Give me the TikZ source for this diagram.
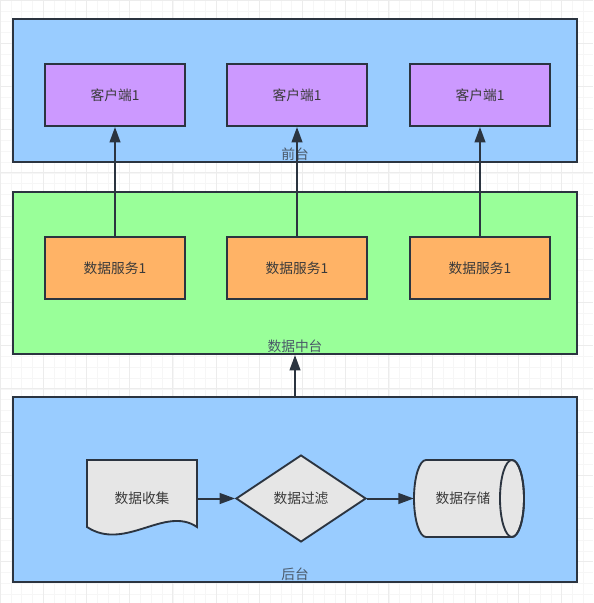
\documentclass[tikz,border=0pt]{standalone}
\usepackage{fontspec}
\newfontfamily\cjk{Noto Sans CJK SC}
\usetikzlibrary{arrows.meta,shapes.geometric}
\definecolor{frameblue}{HTML}{99CCFF}
\definecolor{framegreen}{HTML}{99FF99}
\definecolor{clientpurple}{HTML}{CC99FF}
\definecolor{svcorange}{HTML}{FFB366}
\definecolor{shapegray}{HTML}{E6E6E6}
\definecolor{edge}{HTML}{2B3440}
\definecolor{txtc}{HTML}{3A3A3A}
\definecolor{lblc}{HTML}{4A5868}
\definecolor{gridminor}{HTML}{F6F6F6}
\definecolor{gridmajor}{HTML}{ECECEC}
\begin{document}
\begin{tikzpicture}[x=0.75pt,y=-0.75pt,
  every node/.style={font=\cjk\fontsize{10.3}{12}\selectfont, text=txtc},
  frame/.style={draw=edge, line width=1.5pt, rectangle, minimum width=423pt},
  box/.style={draw=edge, line width=1.5pt, rectangle, minimum width=105pt, minimum height=46.5pt},
  flbl/.style={anchor=south, inner sep=1.5pt, text=lblc},
  conn/.style={draw=edge, line width=1.5pt, -{Triangle[length=11.5pt,width=8pt]}},
  gshape/.style={draw=edge, line width=1.4pt, fill=shapegray}
]
\useasboundingbox (0,0) rectangle (593,603);
\fill[white] (0,0) rectangle (593,603);
% grid
\foreach \i in {0,...,55} {
  \draw[gridminor, line width=0.4pt] ({\i*10.8},0) -- ({\i*10.8},603);
  \draw[gridminor, line width=0.4pt] (0,{\i*10.8}) -- (593,{\i*10.8});
}
\foreach \i in {0,...,14} {
  \draw[gridmajor, line width=0.5pt] ({\i*43.2},0) -- ({\i*43.2},603);
  \draw[gridmajor, line width=0.5pt] (0,{\i*43.2}) -- (593,{\i*43.2});
}
% frames
\node[frame, fill=frameblue, minimum height=107.25pt] (front) at (295,90.5) {};
\node[frame, fill=framegreen, minimum height=121.5pt] (mid) at (295,273) {};
\node[frame, fill=frameblue, minimum height=138.75pt] (back) at (295,489.5) {};
\node[flbl] (lf) at (front.south) {前台};
\node[flbl] (lm) at (mid.south) {数据中台};
\node[flbl] (lb) at (back.south) {后台};
% clients
\node[box, fill=clientpurple] (c1) at (115,95) {客户端1};
\node[box, fill=clientpurple] (c2) at (297,95) {客户端1};
\node[box, fill=clientpurple] (c3) at (480,95) {客户端1};
% services
\node[box, fill=svcorange] (s1) at (115,268) {数据服务1};
\node[box, fill=svcorange] (s2) at (297,268) {数据服务1};
\node[box, fill=svcorange] (s3) at (480,268) {数据服务1};
\draw[conn] (s1) -- (c1);
\draw[conn] (s2) -- (c2);
\draw[conn] (s3) -- (c3);
\draw[conn] (back.north -| lm) -- (mid.south -| lm);
% document shape
\draw[gshape] (87,460) -- (197,460) -- (197,527) .. controls (165,505) and (125,552) .. (87,527) -- cycle;
\node[minimum width=82.5pt, minimum height=57.75pt, inner sep=0pt] (doc) at (142,498.5) {数据收集};
% diamond
\node[diamond, gshape, minimum width=97.5pt, minimum height=65.25pt, inner sep=0pt] (filter) at (301,498.5) {数据过滤};
% cylinder
\draw[gshape] (426,537) arc[start angle=90, end angle=270, x radius=12, y radius=38.5] -- (512,460) arc[start angle=270, end angle=450, x radius=12, y radius=38.5] -- cycle;
\draw[draw=edge, line width=1.4pt] (512,498.5) ellipse[x radius=12, y radius=38.5];
\node[minimum width=73.5pt, minimum height=57.75pt, inner sep=0pt] (store) at (463,498.5) {数据存储};
\draw[conn] (doc) -- (filter);
\draw[conn] (filter) -- (store);
\end{tikzpicture}
\end{document}
